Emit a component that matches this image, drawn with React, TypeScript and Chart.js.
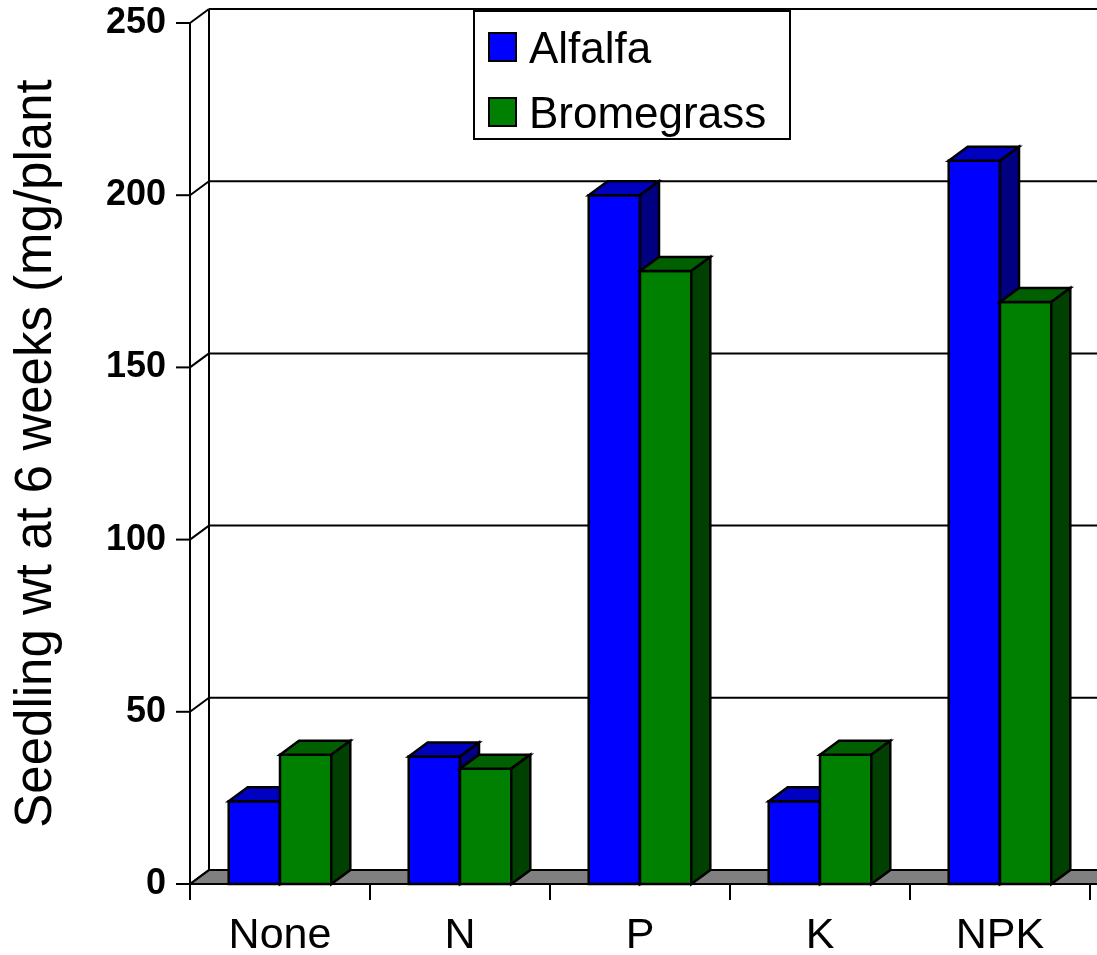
import React, { useEffect, useRef } from "react";
import { Chart, registerables } from "chart.js";

Chart.register(...registerables);

// ---- data ----
const categories = ["None", "N", "P", "K", "NPK"];
const alfalfa = [24, 37, 200, 24, 210];
const bromegrass = [37.5, 33.5, 178, 37.5, 169];
const seriesNames = ["Alfalfa", "Bromegrass"];
const yTicks = [0, 50, 100, 150, 200, 250];
const yTitle = "Seedling wt at 6 weeks (mg/plant";

// ---- style ----
const FRONT = ["#0000FF", "#008000"];
const TOP = ["#0000C0", "#006000"];
const SIDE = ["#000080", "#004000"];
const DX = 19;
const DY = -14;
const FONT = "'Liberation Sans', Arial, Helvetica, sans-serif";

function seg(ctx: CanvasRenderingContext2D, x1: number, y1: number, x2: number, y2: number) {
  ctx.beginPath();
  ctx.moveTo(x1, y1);
  ctx.lineTo(x2, y2);
  ctx.stroke();
}

function poly(ctx: CanvasRenderingContext2D, pts: number[][], fill: string) {
  ctx.beginPath();
  ctx.moveTo(pts[0][0], pts[0][1]);
  for (let i = 1; i < pts.length; i++) ctx.lineTo(pts[i][0], pts[i][1]);
  ctx.closePath();
  ctx.fillStyle = fill;
  ctx.fill();
  ctx.stroke();
}

const threeD = {
  id: "threeD",
  beforeDatasetsDraw(chart: any) {
    const { ctx, chartArea: a, scales } = chart;
    const y = scales.y;
    const W = chart.width;
    const y0 = y.getPixelForValue(0);
    ctx.save();
    ctx.lineWidth = 2;
    ctx.strokeStyle = "#000";
    ctx.lineJoin = "miter";
    // floor
    poly(
      ctx,
      [
        [a.left, y0],
        [a.left + DX, y0 + DY],
        [W + DX + 5, y0 + DY],
        [W + 5, y0],
      ],
      "#808080"
    );
    // side-wall diagonals and back-wall gridlines
    for (const v of yTicks) {
      const py = y.getPixelForValue(v);
      seg(ctx, a.left, py, a.left + DX, py + DY);
      if (v !== 0) seg(ctx, a.left + DX, py + DY, W + 2, py + DY);
    }
    // back wall left edge
    const yTop = y.getPixelForValue(yTicks[yTicks.length - 1]);
    seg(ctx, a.left + DX, yTop + DY, a.left + DX, y0 + DY);
    // front value axis
    seg(ctx, a.left, yTop, a.left, y0 + 16);
    // value ticks
    for (const v of yTicks) {
      const py = y.getPixelForValue(v);
      seg(ctx, a.left - 14, py, a.left, py);
    }
    // category ticks
    const n = categories.length;
    for (let i = 0; i <= n; i++) {
      const bx = a.left + (i * a.width) / n;
      seg(ctx, bx, y0, bx, y0 + 16);
    }
    ctx.restore();
  },
  afterDatasetsDraw(chart: any) {
    const { ctx } = chart;
    ctx.save();
    ctx.lineWidth = 2.5;
    ctx.strokeStyle = "#000";
    ctx.lineJoin = "miter";
    const nDs = chart.data.datasets.length;
    for (let i = 0; i < categories.length; i++) {
      for (let d = 0; d < nDs; d++) {
        const el = chart.getDatasetMeta(d).data[i];
        const { x, y, base, width } = el.getProps(["x", "y", "base", "width"], true);
        const l = x - width / 2;
        const r = x + width / 2;
        // front face
        poly(ctx, [[l, y], [r, y], [r, base], [l, base]], FRONT[d]);
        // top face
        poly(ctx, [[l, y], [l + DX, y + DY], [r + DX, y + DY], [r, y]], TOP[d]);
        // side face
        poly(ctx, [[r, y], [r + DX, y + DY], [r + DX, base + DY], [r, base]], SIDE[d]);
      }
    }
    ctx.restore();
  },
  afterDraw(chart: any) {
    const { ctx } = chart;
    ctx.save();
    // legend box
    const bx = 474, by = 11, bw = 316, bh = 128;
    ctx.fillStyle = "#fff";
    ctx.fillRect(bx, by, bw, bh);
    ctx.lineWidth = 2;
    ctx.strokeStyle = "#000";
    ctx.strokeRect(bx, by, bw, bh);
    ctx.font = `44px ${FONT}`;
    ctx.textBaseline = "alphabetic";
    ctx.textAlign = "left";
    chart.data.datasets.forEach((ds: any, d: number) => {
      const sy = 33 + d * 65;
      ctx.fillStyle = ds.backgroundColor;
      ctx.fillRect(489, sy, 27, 28);
      ctx.strokeRect(489, sy, 27, 28);
      ctx.fillStyle = "#000";
      ctx.fillText(ds.label, 529, sy + 30);
    });
    ctx.restore();
  },
};

export default function App() {
  const ref = useRef<HTMLCanvasElement | null>(null);

  useEffect(() => {
    document.body.style.margin = "0";
    const canvas = ref.current;
    if (!canvas) return;
    const chart = new Chart(canvas, {
      type: "bar",
      data: {
        labels: categories,
        datasets: [
          {
            label: seriesNames[0],
            data: alfalfa,
            backgroundColor: FRONT[0],
            borderColor: "#000",
            borderWidth: 2,
          },
          {
            label: seriesNames[1],
            data: bromegrass,
            backgroundColor: FRONT[1],
            borderColor: "#000",
            borderWidth: 2,
          },
        ],
      },
      options: {
        responsive: false,
        animation: false,
        events: [],
        layout: { padding: { top: 23, right: 7, left: 0, bottom: 0 } },
        datasets: { bar: { categoryPercentage: 0.57, barPercentage: 1 } },
        plugins: {
          legend: { display: false },
          tooltip: { enabled: false },
        },
        scales: {
          x: {
            grid: { display: false, drawTicks: false },
            border: { display: false },
            ticks: {
              color: "#000",
              padding: 26,
              maxRotation: 0,
              font: { family: FONT, size: 43 },
            },
            afterFit: (s: any) => {
              s.height = 71;
              s.paddingLeft = 0;
              s.paddingRight = 0;
            },
          },
          y: {
            min: 0,
            max: 250,
            grid: { display: false, drawTicks: false },
            border: { display: false },
            ticks: {
              stepSize: 50,
              color: "#000",
              padding: 24,
              font: { family: FONT, size: 36, weight: "bold" },
            },
            title: {
              display: true,
              text: yTitle,
              color: "#000",
              padding: { top: 6, bottom: 0 },
              font: { family: FONT, size: 51 },
            },
            afterFit: (s: any) => {
              s.width = 190;
              s.paddingTop = 0;
              s.paddingBottom = 0;
            },
          },
        },
      },
      plugins: [threeD],
    });
    return () => chart.destroy();
  }, []);

  return <canvas ref={ref} width={1097} height={955} style={{ display: "block" }} />;
}
